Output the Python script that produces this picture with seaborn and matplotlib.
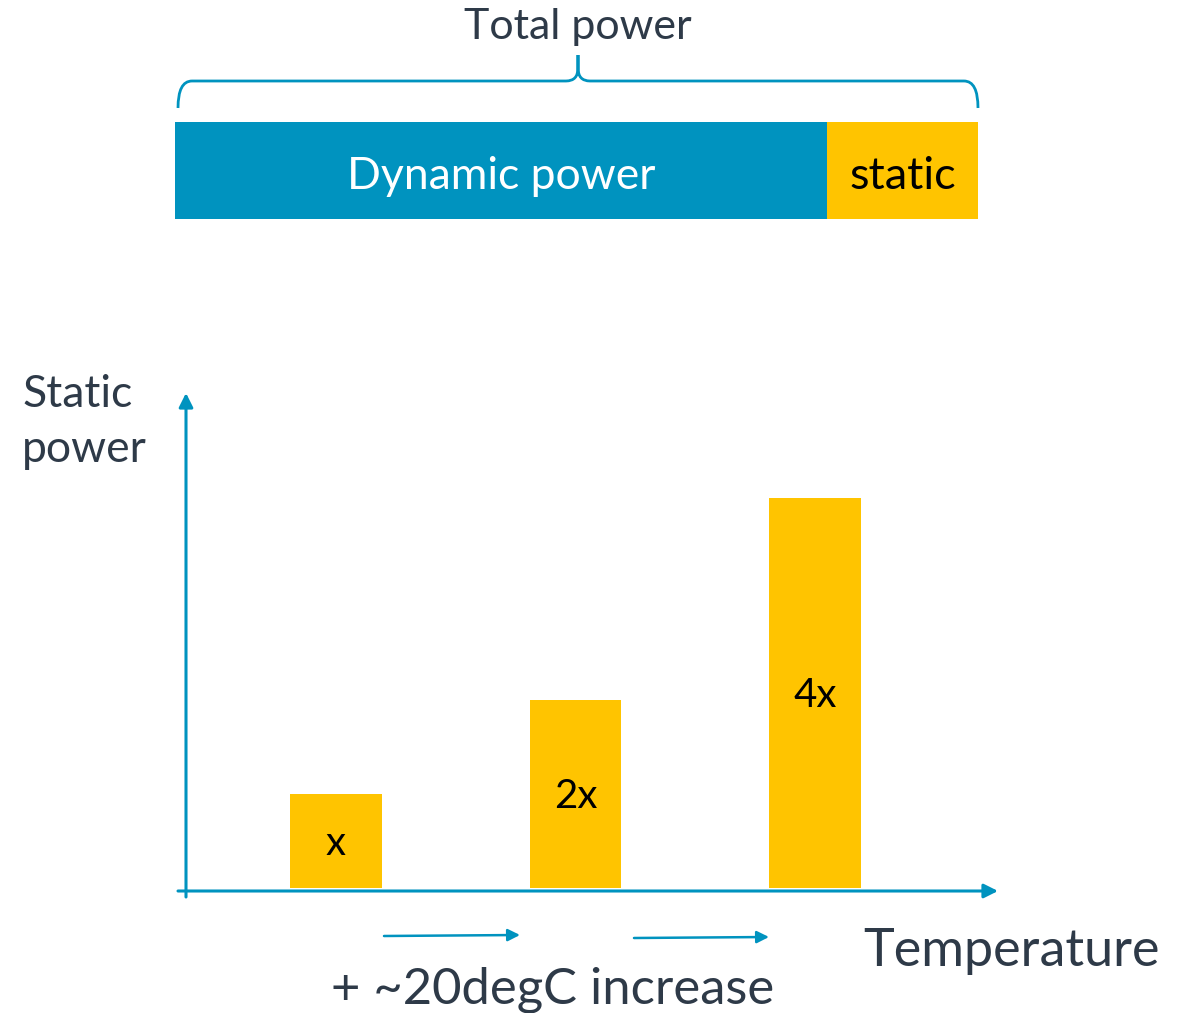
import matplotlib
matplotlib.use("Agg")
import matplotlib.pyplot as plt
from matplotlib.path import Path
from matplotlib.patches import PathPatch
import seaborn as sns
import pandas as pd

# ---- data ----
temp_steps = ["T", "T+20", "T+40"]
static_power = [1.0, 2.0, 4.15]
bar_labels = ["x", "2x", "4x"]

power_parts = ["Dynamic power", "static"]
power_share = [81.2, 18.8]

BLUE = "#0093BF"
YELLOW = "#FFC400"
TEXT = "#2E3A48"
FONT = ["Lato", "DejaVu Sans"]

sns.set_theme(style="white")
plt.rcParams["font.family"] = FONT

W, H = 1181, 1013
fig = plt.figure(figsize=(W / 100, H / 100), dpi=100)

def fx(px):
    return px / W

def fy(py):
    return (H - py) / H

# ---- top stacked bar ----
axt = fig.add_axes([fx(175), fy(219), fx(978) - fx(175), (219 - 122) / H])
total = sum(power_share)
sns.barplot(x=[total], y=["p"], orient="h", color=YELLOW, width=1.0,
            saturation=1, ax=axt, edgecolor="none")
sns.barplot(x=[power_share[0]], y=["p"], orient="h", color=BLUE, width=1.0,
            saturation=1, ax=axt, edgecolor="none")
axt.set_xlim(0, total)
axt.set_ylim(0.5, -0.5)
axt.axis("off")
axt.text(power_share[0] / 2, 0.06, power_parts[0], ha="center", va="center",
         color="white", fontsize=32)
axt.text(power_share[0] + power_share[1] / 2, 0.06, power_parts[1], ha="center",
         va="center", color="black", fontsize=32.5)

# ---- bottom bar chart ----
left_px, right_px, bot_px, top_px = 186, 998, 891, 393
ax = fig.add_axes([fx(left_px), fy(bot_px), fx(right_px) - fx(left_px),
                   (bot_px - top_px) / H])
df = pd.DataFrame({"temp": temp_steps, "power": static_power})
sns.barplot(data=df, x="temp", y="power", color=YELLOW, saturation=1,
            width=0.38, ax=ax, edgecolor="none")
unit_x = 239.5
ax.set_xlim(-(336 - left_px) / unit_x, 2 + (right_px - 815) / unit_x)
unit_y = 94.0
ax.set_ylim(-(bot_px - 888) / unit_y, (888 - top_px) / unit_y)
ax.axis("off")
label_y = [0.47, 0.97, 2.05]
for i, lab in enumerate(bar_labels):
    ax.text(i, label_y[i], lab, ha="center", va="center", color="black",
            fontsize=29)

arrow_kw = dict(arrowstyle="-|>,head_length=0.7,head_width=0.35",
                color=BLUE, lw=2.2, shrinkA=0, shrinkB=0)
ax.annotate("", xy=(1.0, 0.0), xytext=(-(left_px - 178) / (right_px - left_px), 0.0),
            xycoords="axes fraction", textcoords="axes fraction",
            arrowprops=arrow_kw, annotation_clip=False)
ax.annotate("", xy=(0.0, 1.0), xytext=(0.0, -(897 - bot_px) / (bot_px - top_px)),
            xycoords="axes fraction", textcoords="axes fraction",
            arrowprops=arrow_kw, annotation_clip=False)

# ---- overlay for annotations ----
ov = fig.add_axes([0, 0, 1, 1], facecolor="none")
ov.set_xlim(0, W)
ov.set_ylim(H, 0)
ov.axis("off")

small_kw = dict(arrowstyle="-|>,head_length=0.6,head_width=0.3",
                color=BLUE, lw=1.8, shrinkA=0, shrinkB=0)
ov.annotate("", xy=(520, 935), xytext=(384, 936), arrowprops=small_kw)
ov.annotate("", xy=(769, 937), xytext=(634, 938), arrowprops=small_kw)

# brace
verts = [(178, 108), (178, 81), (192, 81), (566, 81), (578, 81), (578, 68),
         (578, 55), (578, 68), (578, 81), (590, 81), (964, 81), (978, 81), (978, 108)]
codes = [Path.MOVETO, Path.CURVE3, Path.CURVE3, Path.LINETO, Path.CURVE3, Path.CURVE3,
         Path.LINETO, Path.LINETO, Path.CURVE3, Path.CURVE3, Path.LINETO,
         Path.CURVE3, Path.CURVE3]
ov.add_patch(PathPatch(Path(verts, codes), facecolor="none", edgecolor=BLUE, lw=2))

ov.text(578, 27, "Total power", ha="center", va="center", color=TEXT, fontsize=31)
ov.text(22, 422, "Static\npower", ha="left", va="center", color=TEXT,
        fontsize=32, linespacing=1.42)
ov.text(1011, 951, "Temperature", ha="center", va="center", color=TEXT, fontsize=37.5)
ov.text(553, 990, "+ ~20degC increase", ha="center", va="center", color=TEXT,
        fontsize=36.5)

fig.savefig("out.png", dpi=100)
